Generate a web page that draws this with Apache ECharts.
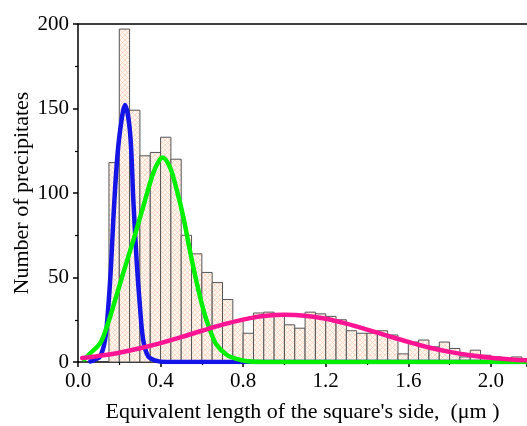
<!DOCTYPE html>
<html>
<head>
<meta charset="utf-8">
<script src="https://cdn.jsdelivr.net/npm/echarts@6/dist/echarts.min.js"></script>
<style>
  html, body { margin: 0; padding: 0; background: #fff; }
  #chart { width: 527px; height: 426px; }
</style>
</head>
<body>
<div id="chart"></div>
<script>
// histogram bins: left edge of each 0.05 um bin and the count
const binWidth = 0.05;
const binStarts = [
    0.15, 0.20, 0.25, 0.30, 0.35, 0.40, 0.45, 0.50, 0.55, 0.60,
    0.65, 0.70, 0.75, 0.80, 0.85, 0.90, 0.95, 1.00, 1.05, 1.10,
    1.15, 1.20, 1.25, 1.30, 1.35, 1.40, 1.45, 1.50, 1.55, 1.60,
    1.65, 1.70, 1.75, 1.80, 1.85, 1.90, 1.95, 2.00, 2.05, 2.10, 2.15,
];
const binCounts = [
    118, 197, 149, 122, 124, 133, 120, 75, 64, 53,
    47, 37, 24, 17, 29, 29.5, 28, 22, 20, 29.5,
    28.5, 27, 25, 18.5, 17, 17, 18.5, 16, 4.8, 11.8,
    13, 9, 11.8, 8, 3, 7, 4, 3, 2, 3, 2,
];

// fitted curves
const blueX = [0.06, 0.082, 0.107, 0.131, 0.147, 0.16, 0.171, 0.187, 0.203, 0.228,
    0.252, 0.268, 0.284, 0.3, 0.316, 0.34, 0.373, 0.42, 0.8, 1.4, 2.175];
const blueY = [0.3, 1.4, 3.3, 13, 33, 57, 84, 116, 136, 152,
    136, 96, 60, 33, 13, 3.3, 1, 0, 0, 0, 0];

const greenX = [0.03, 0.058, 0.107, 0.14, 0.171, 0.22, 0.268, 0.316, 0.365, 0.397,
    0.41, 0.446, 0.478, 0.51, 0.542, 0.575, 0.607, 0.639, 0.672, 0.72,
    0.768, 0.82, 0.9, 1.5, 2.175];
const greenY = [1.5, 5, 11, 21, 33, 53, 72, 92, 112, 120,
    121, 115, 102, 86, 66, 47, 31, 19, 10, 4.3,
    1.8, 0.5, 0, 0, 0];

const pinkX = [0.02, 0.1, 0.2, 0.3, 0.4, 0.5, 0.6, 0.7, 0.8, 0.9, 1.0,
    1.1, 1.2, 1.3, 1.4, 1.5, 1.6, 1.7, 1.8, 1.9, 2.0, 2.1, 2.175];
const pinkY = [2.4, 3.6, 5.5, 8.1, 11.2, 14.7, 18.5, 22.1, 25.1, 27.2, 28,
    27.4, 25.6, 22.7, 19.2, 15.5, 11.9, 8.6, 6.0, 4.0, 2.5, 1.5, 1.0];

const xTicks = [0.0, 0.4, 0.8, 1.2, 1.6, 2.0];
const yTicks = [0, 50, 100, 150, 200];

const zip = (xs, ys) => xs.map((x, i) => [x, ys[i]]);

// faint cross hatch fill for the bars
const hatch = document.createElement("canvas");
hatch.width = 5;
hatch.height = 5;
(() => {
    const ctx = hatch.getContext("2d");
    ctx.fillStyle = "#fff5ef";
    ctx.fillRect(0, 0, 5, 5);
    ctx.strokeStyle = "#f9d2bc";
    ctx.lineWidth = 0.8;
    ctx.beginPath();
    ctx.moveTo(0, 0); ctx.lineTo(5, 5);
    ctx.moveTo(5, 0); ctx.lineTo(0, 5);
    ctx.stroke();
})();

const font = "Liberation Serif";
const chart = echarts.init(document.getElementById("chart"));

const curve = (name, xs, ys, color) => ({
    name,
    type: "line",
    data: zip(xs, ys),
    showSymbol: false,
    smooth: 0.35,
    lineStyle: { color, width: 4.5, cap: "round", join: "round" },
    clip: true,
    z: 3,
});

chart.setOption({
    animation: false,
    backgroundColor: "#fff",
    grid: { left: 78, right: 0, top: 24, bottom: 64, outerBoundsMode: "none" },
    xAxis: [
        {
            type: "value",
            min: 0,
            max: 2.175,
            interval: 0.4,
            name: "Equivalent length of the square's side,  (\u03bcm )",
            nameLocation: "middle",
            nameGap: 39,
            nameMoveOverlap: false,
            nameTextStyle: { fontFamily: font, fontSize: 22, color: "#000" },
            axisLine: { lineStyle: { color: "#000", width: 1.5 } },
            axisTick: { inside: false, length: 5, lineStyle: { color: "#000", width: 1.5 } },
            minorTick: { show: true, splitNumber: 2, length: 3, lineStyle: { color: "#000", width: 1.2 } },
            axisLabel: {
                showMaxLabel: false,
                fontFamily: font,
                fontSize: 21,
                color: "#000",
                margin: 9,
                formatter: (v) => (xTicks.some((t) => Math.abs(t - v) < 1e-6) ? v.toFixed(1) : ""),
            },
            splitLine: { show: false },
        },
        {
            type: "value",
            position: "top",
            min: 0,
            max: 2.175,
            axisLine: { show: true, lineStyle: { color: "#000", width: 1.5 } },
            axisTick: { show: false },
            axisLabel: { show: false },
            splitLine: { show: false },
        },
    ],
    yAxis: {
        type: "value",
        min: 0,
        max: 200,
        interval: 50,
        name: "Number of precipitates",
        nameLocation: "middle",
        nameGap: 45,
        nameMoveOverlap: false,
        nameTextStyle: { fontFamily: font, fontSize: 22, color: "#000" },
        axisLine: { show: true, lineStyle: { color: "#000", width: 1.5 } },
        axisTick: { inside: false, length: 5, lineStyle: { color: "#000", width: 1.5 } },
        minorTick: { show: true, splitNumber: 2, length: 3, lineStyle: { color: "#000", width: 1.2 } },
        axisLabel: {
            fontFamily: font,
            fontSize: 21,
            color: "#000",
            margin: 9,
            formatter: (v) => (yTicks.includes(v) ? String(v) : ""),
        },
        splitLine: { show: false },
    },
    series: [
        {
            name: "Counts",
            type: "custom",
            clip: true,
            data: zip(binStarts, binCounts),
            renderItem: (params, api) => {
                const x0 = api.value(0);
                const top = api.coord([x0, api.value(1)]);
                const base = api.coord([x0 + binWidth, 0]);
                return {
                    type: "rect",
                    shape: {
                        x: top[0],
                        y: top[1],
                        width: base[0] - top[0],
                        height: base[1] - top[1],
                    },
                    style: {
                        fill: { image: hatch, repeat: "repeat" },
                        stroke: "#555",
                        lineWidth: 1,
                    },
                };
            },
            z: 2,
        },
        curve("Fit 1", blueX, blueY, "#1414e6"),
        curve("Fit 2", greenX, greenY, "#00f000"),
        curve("Fit 3", pinkX, pinkY, "#ff1493"),
    ],
});
</script>
</body>
</html>
